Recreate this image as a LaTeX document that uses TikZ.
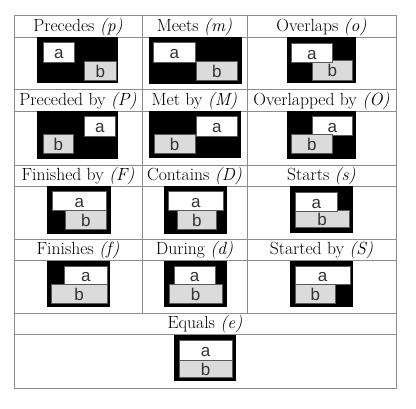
\documentclass[tikz,border=0pt]{standalone}
\usepackage{fontspec}
\newfontfamily\absf{Liberation Sans}
\begin{document}
\begin{tikzpicture}[x=1pt,y=-1pt]
\tikzset{
  gridline/.style={draw=black!45, line width=0.9pt},
  bgbox/.style={fill=black, draw=none, inner sep=0pt, anchor=north west},
  abox/.style={draw=black!65, line width=0.8pt, fill=white, inner sep=0pt,
    font={\absf\fontsize{17}{17}\selectfont}, text=black!80,
    text height=13.5pt, text depth=0pt, anchor=north west},
  bbox/.style={abox, fill=black!14},
  hdr/.style={font={\fontsize{17.6}{20}\selectfont}, anchor=base, inner sep=0pt},
}
\newcommand\ibox[7]{\node[#2, minimum width={(#5-#3)*1pt}, minimum height={(#6-#4)*1pt}] (#1) at (#3,#4) {#7};}
\useasboundingbox (0,0) rectangle (416,408);
% table grid
\draw[gridline] (14,15) rectangle (396,388);
\foreach \yy in {37,89,111,165,186,239,260,313,334} \draw[gridline] (14,\yy) -- (396,\yy);
\draw[gridline] (142,15) -- (142,313);
\draw[gridline] (247,15) -- (247,313);
% headers
\node[hdr] (h1) at (78,31.5) {Precedes \textit{(p)}};
\node[hdr] (h2) at (194.5,31.5) {Meets \textit{(m)}};
\node[hdr] (h3) at (321.5,31.5) {Overlaps \textit{(o)}};
\node[hdr] (h4) at (78,105.5) {Preceded by \textit{(P)}};
\node[hdr] (h5) at (194.5,105.5) {Met by \textit{(M)}};
\node[hdr] (h6) at (321.5,105.5) {Overlapped by \textit{(O)}};
\node[hdr] (h7) at (78,180.5) {Finished by \textit{(F)}};
\node[hdr] (h8) at (194.5,180.5) {Contains \textit{(D)}};
\node[hdr] (h9) at (321.5,180.5) {Starts \textit{(s)}};
\node[hdr] (h10) at (78,254.5) {Finishes \textit{(f)}};
\node[hdr] (h11) at (194.5,254.5) {During \textit{(d)}};
\node[hdr] (h12) at (321.5,254.5) {Started by \textit{(S)}};
\node[hdr] (h13) at (205,328.5) {Equals \textit{(e)}};
% row 1
\ibox{pk}{bgbox}{37}{37}{118}{83}{}
\ibox{pb}{bbox}{84}{60.5}{116}{79.5}{b}
\ibox{pa}{abox}{43}{42}{74}{61.5}{a}
\ibox{mk}{bgbox}{149}{37}{242}{84}{}
\ibox{mb}{bbox}{196}{60.5}{237}{79.5}{b}
\ibox{ma}{abox}{153}{42}{195}{61.5}{a}
\ibox{ok}{bgbox}{287}{37}{356}{83}{}
\ibox{ob}{bbox}{312}{59.5}{352}{79.5}{b}
\ibox{oa}{abox}{291}{42.5}{332}{62}{a}
% row 2
\ibox{Pk}{bgbox}{37}{111}{118}{158.5}{}
\ibox{Pa}{abox}{84}{116}{115}{135.5}{a}
\ibox{Pb}{bbox}{43}{134}{73}{153}{b}
\ibox{Mk}{bgbox}{149}{111}{241}{158}{}
\ibox{Ma}{abox}{196}{116}{237}{135.5}{a}
\ibox{Mb}{bbox}{154}{134}{194.5}{153}{b}
\ibox{Ok}{bgbox}{287}{111}{356}{158.5}{}
\ibox{Oa}{abox}{312}{116}{352}{135}{a}
\ibox{Ob}{bbox}{291}{134}{332}{153}{b}
% row 3
\ibox{Fk}{bgbox}{47}{186}{111}{234}{}
\ibox{Fb}{bbox}{65}{210}{106}{228.5}{b}
\ibox{Fa}{abox}{52}{191}{106}{210}{a}
\ibox{Dk}{bgbox}{163.5}{186}{227}{234}{}
\ibox{Db}{bbox}{177}{210}{216}{228.5}{b}
\ibox{Da}{abox}{168}{191}{223}{210}{a}
\ibox{sk}{bgbox}{289.5}{186}{352.5}{232.5}{}
\ibox{sb}{bbox}{295}{209.5}{348.5}{227}{b}
\ibox{sa}{abox}{295}{191.5}{337}{210.5}{a}
% row 4
\ibox{fk}{bgbox}{46.5}{260.5}{110}{307}{}
\ibox{fb}{bbox}{50.5}{283.5}{107}{303}{b}
\ibox{fa}{abox}{64}{265.5}{107}{284}{a}
\ibox{dk}{bgbox}{163.5}{260.5}{226.5}{307}{}
\ibox{db}{bbox}{168.5}{283.5}{222}{303}{b}
\ibox{da}{abox}{173.5}{265.5}{215}{284}{a}
\ibox{Sk}{bgbox}{289.5}{260.5}{352.5}{307}{}
\ibox{Sb}{bbox}{295}{283.5}{335}{303}{b}
\ibox{Sa}{abox}{295}{265.5}{349.5}{284}{a}
% equals
\ibox{ek}{bgbox}{173.5}{335}{236}{381}{}
\ibox{eb}{bbox}{178.5}{360}{232}{376.5}{b}
\ibox{ea}{abox}{178.5}{339.5}{232}{360}{a}
\end{tikzpicture}
\end{document}
